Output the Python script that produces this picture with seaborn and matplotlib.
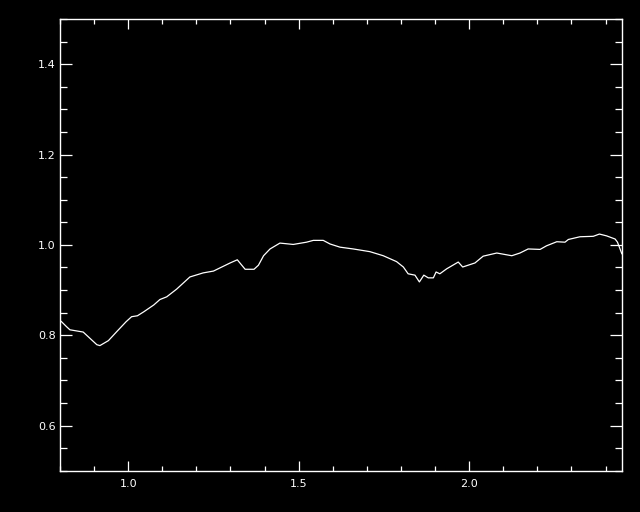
"""
Curva espectral normalizada, estilo IDL sobre fondo negro.
"""
import numpy as np
import pandas as pd
import matplotlib
matplotlib.use('Agg')
import matplotlib.pyplot as plt
import seaborn as sns
from matplotlib.ticker import MultipleLocator

# Datos
wavelength = [0.803, 0.819, 0.829, 0.868, 0.908, 0.917, 0.942, 0.969, 0.994,
              1.010, 1.027, 1.046, 1.075, 1.093, 1.113, 1.142, 1.181, 1.220,
              1.250, 1.269, 1.299, 1.320, 1.343, 1.369, 1.382, 1.397, 1.416,
              1.445, 1.484, 1.523, 1.543, 1.572, 1.592, 1.621, 1.660, 1.709,
              1.748, 1.787, 1.807, 1.821, 1.841, 1.854, 1.867, 1.880, 1.895,
              1.903, 1.914, 1.934, 1.968, 1.981, 2.017, 2.041, 2.081, 2.125,
              2.149, 2.173, 2.208, 2.227, 2.257, 2.281, 2.291, 2.325, 2.364,
              2.382, 2.403, 2.428, 2.435, 2.442, 2.448]
flux = [0.831, 0.819, 0.812, 0.807, 0.779, 0.777, 0.788, 0.810, 0.830,
        0.841, 0.843, 0.852, 0.867, 0.879, 0.885, 0.902, 0.929, 0.938,
        0.942, 0.949, 0.960, 0.967, 0.946, 0.946, 0.955, 0.976, 0.991,
        1.004, 1.001, 1.006, 1.010, 1.010, 1.002, 0.995, 0.991, 0.985,
        0.976, 0.963, 0.951, 0.936, 0.933, 0.918, 0.933, 0.927, 0.927,
        0.940, 0.936, 0.947, 0.962, 0.951, 0.960, 0.975, 0.982, 0.976,
        0.982, 0.991, 0.990, 0.998, 1.007, 1.006, 1.012, 1.018, 1.019,
        1.024, 1.020, 1.013, 1.006, 0.992, 0.980]

df = pd.DataFrame({'wavelength': wavelength, 'flux': flux})

sns.set_style('dark', {'axes.facecolor': 'black', 'figure.facecolor': 'black'})
plt.rcParams['font.family'] = ['DejaVu Sans']

fig = plt.figure(figsize=(6.4, 5.12), dpi=100)
ax = fig.add_axes([0.09375, 0.0807, 0.878, 0.882])
ax.set_facecolor('black')

sns.lineplot(data=df, x='wavelength', y='flux', ax=ax,
             color='white', linewidth=0.9, sort=False)

ax.set_xlim(0.8, 2.448)
ax.set_ylim(0.5, 1.5)
ax.set_xlabel('')
ax.set_ylabel('')

ax.xaxis.set_major_locator(MultipleLocator(0.5))
ax.xaxis.set_minor_locator(MultipleLocator(0.1))
ax.yaxis.set_major_locator(MultipleLocator(0.2))
ax.yaxis.set_minor_locator(MultipleLocator(0.05))
ax.xaxis.set_major_formatter(plt.FormatStrFormatter('%.1f'))
ax.yaxis.set_major_formatter(plt.FormatStrFormatter('%.1f'))

for spine in ax.spines.values():
    spine.set_visible(True)
    spine.set_color('white')
    spine.set_linewidth(1.0)

ax.tick_params(axis='both', which='both', direction='in', colors='white',
               top=True, right=True, bottom=True, left=True,
               width=0.9, labelsize=8)
ax.tick_params(axis='x', which='major', length=7, pad=6)
ax.tick_params(axis='x', which='minor', length=3.5)
ax.tick_params(axis='y', which='major', length=8.5, pad=3)
ax.tick_params(axis='y', which='minor', length=4.8)
ax.grid(False)

plt.savefig('out.png', dpi=100, facecolor='black')
plt.close()
